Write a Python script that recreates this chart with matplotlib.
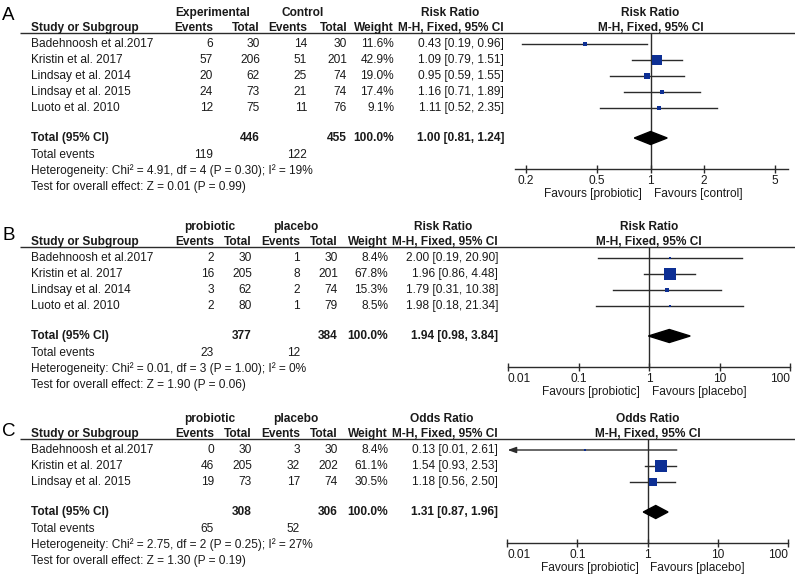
import numpy as np
import matplotlib
matplotlib.use('Agg')
from matplotlib import pyplot as plt
from matplotlib.ticker import NullLocator

plt.rcParams['font.family'] = ['Liberation Sans', 'DejaVu Sans']

W, H = 795, 584
FS = 8.6
BLUE = '#0d2f94'
LINE = '#2b2b2b'
TXT = '#1a1a1a'

# ---- panel A ----
studies_a = ['Badehnoosh et al.2017', 'Kristin et al. 2017', 'Lindsay et al. 2014',
             'Lindsay et al. 2015', 'Luoto et al. 2010']
ev1_a = [6, 57, 20, 24, 12]
n1_a = [30, 206, 62, 73, 75]
ev2_a = [14, 51, 25, 21, 11]
n2_a = [30, 201, 74, 74, 76]
wt_a = [11.6, 42.9, 19.0, 17.4, 9.1]
est_a = [0.43, 1.09, 0.95, 1.16, 1.11]
lo_a = [0.19, 0.79, 0.59, 0.71, 0.52]
hi_a = [0.96, 1.51, 1.55, 1.89, 2.35]
total_a = [1.00, 0.81, 1.24]
het_a = ['4.91', '4', '0.30', '19']
z_a = ['0.01', '0.99']

# ---- panel B ----
studies_b = ['Badehnoosh et al.2017', 'Kristin et al. 2017', 'Lindsay et al. 2014',
             'Luoto et al. 2010']
ev1_b = [2, 16, 3, 2]
n1_b = [30, 205, 62, 80]
ev2_b = [1, 8, 2, 1]
n2_b = [30, 201, 74, 79]
wt_b = [8.4, 67.8, 15.3, 8.5]
est_b = [2.00, 1.96, 1.79, 1.98]
lo_b = [0.19, 0.86, 0.31, 0.18]
hi_b = [20.90, 4.48, 10.38, 21.34]
total_b = [1.94, 0.98, 3.84]
het_b = ['0.01', '3', '1.00', '0']
z_b = ['1.90', '0.06']

# ---- panel C ----
studies_c = ['Badehnoosh et al.2017', 'Kristin et al. 2017', 'Lindsay et al. 2015']
ev1_c = [0, 46, 19]
n1_c = [30, 205, 73]
ev2_c = [3, 32, 17]
n2_c = [30, 202, 74]
wt_c = [8.4, 61.1, 30.5]
est_c = [0.13, 1.54, 1.18]
lo_c = [0.01, 0.93, 0.56]
hi_c = [2.61, 2.53, 2.50]
total_c = [1.31, 0.87, 1.96]
het_c = ['2.75', '2', '0.25', '27']
z_c = ['1.30', '0.19']

ticks_ab = [0.2, 0.5, 1, 2, 5]
ticks_log = [0.01, 0.1, 1, 10, 100]

panels = [
    dict(letter='A', letter_y=15, u=33, cols=[213, 260, 307, 347, 394, 504, 450],
         groups=['Experimental', 'Control'], gx=[213, 303], measure='Risk Ratio',
         studies=studies_a, ev1=ev1_a, n1=n1_a, ev2=ev2_a, n2=n2_a, wt=wt_a,
         est=est_a, lo=lo_a, hi=hi_a, total=total_a, het=het_a, z=z_a,
         ticks=ticks_ab, xpx=[515, 788], xlim=[0.173, 5.92], fav='control'),
    dict(letter='B', letter_y=235, u=247, cols=[214, 252, 300, 338, 388, 498, 443],
         groups=['probiotic', 'placebo'], gx=[210, 296], measure='Risk Ratio',
         studies=studies_b, ev1=ev1_b, n1=n1_b, ev2=ev2_b, n2=n2_b, wt=wt_b,
         est=est_b, lo=lo_b, hi=hi_b, total=total_b, het=het_b, z=z_b,
         ticks=ticks_log, xpx=[508, 790], xlim=[0.01, 100], fav='placebo'),
    dict(letter='C', letter_y=432, u=439, cols=[214, 252, 300, 338, 388, 498, 442],
         groups=['probiotic', 'placebo'], gx=[210, 296], measure='Odds Ratio',
         studies=studies_c, ev1=ev1_c, n1=n1_c, ev2=ev2_c, n2=n2_c, wt=wt_c,
         est=est_c, lo=lo_c, hi=hi_c, total=total_c, het=het_c, z=z_c,
         ticks=ticks_log, xpx=[507, 788], xlim=[0.01, 100], fav='placebo'),
]

fig = plt.figure(figsize=(W / 100, H / 100), dpi=100)
bg = fig.add_axes([0, 0, 1, 1])
bg.set_xlim(0, W)
bg.set_ylim(H, 0)
bg.axis('off')


def txt(x, y, s, ha='right', bold=False, size=FS):
    bg.text(x, y, s, ha=ha, va='center', fontsize=size, color=TXT,
            fontweight='bold' if bold else 'normal')


def ci_str(e, l, h):
    return '{:.2f} [{:.2f}, {:.2f}]'.format(e, l, h)


for p in panels:
    u = p['u']
    c = p['cols']
    n = len(p['studies'])
    rows = [u + 11 + i * 16 for i in range(n)]
    ytot = rows[-1] + 30
    yaxis = ytot + 31

    bg.text(2, p['letter_y'], p['letter'], ha='left', va='center', fontsize=13.5, color='black')
    # headers
    txt(p['gx'][0], u - 20, p['groups'][0], ha='center', bold=True)
    txt(p['gx'][1], u - 20, p['groups'][1], ha='center', bold=True)
    txt(c[6], u - 20, p['measure'], ha='center', bold=True)
    txt(31, u - 5, 'Study or Subgroup', ha='left', bold=True)
    for x, s in zip(c[:5], ['Events', 'Total', 'Events', 'Total', 'Weight']):
        txt(x, u - 5, s, bold=True)
    txt(c[5], u - 5, 'M-H, Fixed, 95% CI', bold=True)
    bg.plot([20, W], [u, u], color=LINE, lw=1.0, solid_capstyle='butt')

    # study rows
    for i in range(n):
        y = rows[i]
        txt(31, y, p['studies'][i], ha='left')
        txt(c[0], y, str(p['ev1'][i]))
        txt(c[1], y, str(p['n1'][i]))
        txt(c[2], y, str(p['ev2'][i]))
        txt(c[3], y, str(p['n2'][i]))
        txt(c[4], y, '{:.1f}%'.format(p['wt'][i]))
        txt(c[5], y, ci_str(p['est'][i], p['lo'][i], p['hi'][i]))

    # totals
    txt(31, ytot, 'Total (95% CI)', ha='left', bold=True)
    txt(c[1], ytot, str(sum(p['n1'])), bold=True)
    txt(c[3], ytot, str(sum(p['n2'])), bold=True)
    txt(c[4], ytot, '100.0%', bold=True)
    txt(c[5], ytot, ci_str(*p['total']), bold=True)
    txt(31, ytot + 17, 'Total events', ha='left')
    txt(c[0], ytot + 17, str(sum(p['ev1'])))
    txt(c[2], ytot + 17, str(sum(p['ev2'])))
    h = p['het']
    txt(31, ytot + 33, 'Heterogeneity: Chi\u00b2 = {}, df = {} (P = {}); I\u00b2 = {}%'.format(*h), ha='left')
    txt(31, ytot + 49, 'Test for overall effect: Z = {} (P = {})'.format(*p['z']), ha='left')

    # forest plot
    x0, x1 = p['xpx']
    ax = fig.add_axes([x0 / W, 1 - yaxis / H, (x1 - x0) / W, (yaxis - u) / H])
    ax.patch.set_visible(False)
    ax.set_xscale('log')
    ax.set_xlim(*p['xlim'])
    ax.set_ylim(yaxis, u)
    for s in ['top', 'left', 'right']:
        ax.spines[s].set_visible(False)
    ax.spines['bottom'].set_color(LINE)
    ax.spines['bottom'].set_linewidth(1.0)
    ax.set_xticks(p['ticks'], [('%g' % t) for t in p['ticks']])
    ax.xaxis.set_minor_locator(NullLocator())
    ax.set_yticks([])
    ax.tick_params(axis='x', direction='inout', length=6, width=1.0, pad=1.5,
                   labelsize=FS, colors=LINE, labelcolor=TXT)
    # end labels that sit on the axis ends are pulled inward
    labels = ax.get_xticklabels()
    if p['ticks'][0] <= p['xlim'][0]:
        labels[0].set_horizontalalignment('left')
    if p['ticks'][-1] >= p['xlim'][1]:
        labels[-1].set_horizontalalignment('right')
    ax.axvline(1, color=LINE, lw=1.0, zorder=2)

    xmin = p['xlim'][0]
    for i in range(n):
        y = rows[i]
        lo, hi, e = p['lo'][i], p['hi'][i], p['est'][i]
        if lo <= xmin:
            ax.annotate('', xy=(xmin * 1.02, y), xytext=(hi, y),
                        arrowprops=dict(arrowstyle='-|>,head_length=0.5,head_width=0.18',
                                        color=LINE, lw=1.0, shrinkA=0, shrinkB=0))
        else:
            ax.plot([lo, hi], [y, y], color=LINE, lw=1.0, zorder=1)
        side = 0.65 * p['wt'][i] ** 0.7
        ax.plot([e], [y], marker='s', ms=side * 0.72, color=BLUE, mec=BLUE, mew=0, zorder=3)

    te, tl, th = p['total']
    ax.fill([tl, te, th, te], [ytot, ytot - 6.5, ytot, ytot + 6.5], color='black', zorder=3)

    ax.annotate('Favours [probiotic]', xy=(1, yaxis), xytext=(-9 * 0.72, -25 * 0.72),
                textcoords='offset points', ha='right', va='center', fontsize=FS, color=TXT,
                annotation_clip=False)
    ax.annotate('Favours [%s]' % p['fav'], xy=(1, yaxis), xytext=(3 * 0.72, -25 * 0.72),
                textcoords='offset points', ha='left', va='center', fontsize=FS, color=TXT,
                annotation_clip=False)
    ax.annotate(p['measure'], xy=(1, u), xytext=(0, 20 * 0.72), textcoords='offset points',
                ha='center', va='center', fontsize=FS, fontweight='bold', color=TXT,
                annotation_clip=False)
    ax.annotate('M-H, Fixed, 95% CI', xy=(1, u), xytext=(0, 5 * 0.72), textcoords='offset points',
                ha='center', va='center', fontsize=FS, fontweight='bold', color=TXT,
                annotation_clip=False)

fig.savefig('out.png', dpi=100, facecolor='white')
